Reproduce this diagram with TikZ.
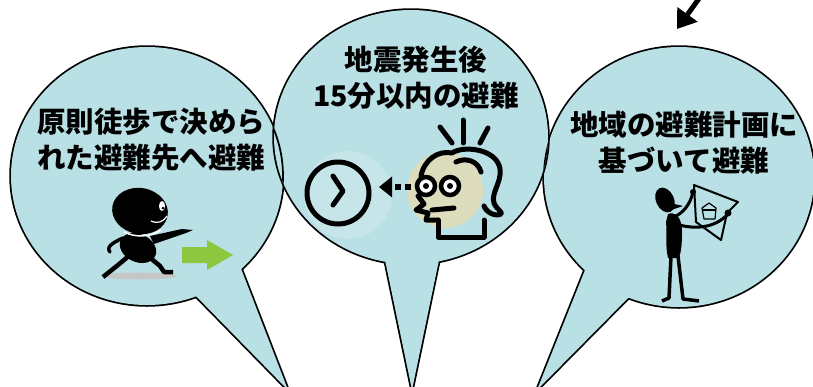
\documentclass[tikz,border=0pt]{standalone}
\usepackage{fontspec}
\usepackage{tikz}
\usetikzlibrary{arrows.meta}
\newfontfamily\jpfont{Noto Sans CJK JP}

\definecolor{bubblefill}{RGB}{185,224,228}
\definecolor{glowfill}{RGB}{197,229,232}
\definecolor{facefill}{RGB}{221,221,190}
\definecolor{gogreen}{RGB}{141,198,63}

% speech bubble: centre, x radius, y radius, tail base 1, tail base 2, tail tip
\newcommand{\drawbubble}[6]{%
  \draw[line width=3.5pt] #4 -- #6 -- #5;
  \draw[line width=3.5pt] #1 ellipse [x radius=#2, y radius=#3];
  \fill[bubblefill] #4 -- #6 -- #5 -- cycle;
  \fill[bubblefill] #1 ellipse [x radius=#2, y radius=#3];
}

\begin{document}
\begin{tikzpicture}[x=1pt,y=-1pt,
  msg/.style={font=\jpfont\bfseries\fontsize{28.5}{36}\selectfont, align=center, inner sep=0pt},
  ink/.style={line width=5pt, line cap=round, line join=round}]

\useasboundingbox (0,0) rectangle (813,386);
\clip (0,0) rectangle (813,386);

% Draw bubbles
\drawbubble{(147,176)}{136}{129}{(193,293)}{(240,266)}{(288,390)}
\drawbubble{(679,177)}{135}{130}{(587,265)}{(632,294)}{(537,390)}
\drawbubble{(411,137)}{137}{127}{(385,260)}{(439,260)}{(412,390)}

% outlines crossing under the middle bubble
\begin{scope}
  \clip (411,137) ellipse [x radius=137, y radius=127];
  \draw[line width=1.75pt] (147,176) ellipse [x radius=136, y radius=129];
  \draw[line width=1.75pt] (679,177) ellipse [x radius=135, y radius=130];
\end{scope}

% Add texts
\node[msg] (walk) at (151,140) {原則徒歩で決めら\\れた避難先へ避難};
\node[msg] (quake) at (416,78) {地震発生後\\15分以内の避難};
\node[msg] (plan) at (684,143) {地域の避難計画に\\基づいて避難};

% Arrow at the top
\coordinate (arrtail) at (708,-14);
\coordinate (arrtip) at (677,29);
\draw[line width=5pt, -{Triangle[width=24pt,length=18pt]}] (arrtail) -- (arrtip);

% Runner
\fill[gray!45] (140,276) ellipse [x radius=37, y radius=3.5];
\fill[rotate around={-10:(140,211)}] (140,211) ellipse [x radius=28, y radius=23];
\fill[rotate around={-25:(138,248)}] (138,248) ellipse [x radius=19, y radius=14];
\draw[white, line width=1.5pt] (124,232) .. controls (136,238) and (150,237) .. (161,230);
\fill[white] (162,206) ellipse [x radius=3, y radius=5];
\fill (163,208) circle (1.5);
\draw[white, line width=1.2pt] (151,221) .. controls (158,224) and (163,222) .. (167,216);
\fill (150,236) -- (182,229) -- (193,230) -- (186,233) -- (154,244) -- cycle;
\draw[line width=3.5pt, line cap=round] (123,238) .. controls (112,243) and (106,247) .. (110,252);
\draw[line width=4.5pt, line join=round] (130,255) -- (118,265) -- (103,277);
\draw[line width=4.5pt, line join=round] (148,256) -- (160,266) -- (164,272) -- (173,272);

% Green arrow
\fill[gogreen] (182,247) -- (207,247) -- (207,240) -- (233,255) -- (207,270) -- (207,263) -- (182,263) -- cycle;

% Clock
\fill[glowfill] (348,195) circle (44);
\draw[line width=5pt] (338,193) circle (31);
\draw[ink] (333,176) -- (343,191) -- (333,205);

% Head with glasses
\fill[facefill] (445,190) circle (38);
\foreach \xa/\ya/\xb/\yb in {440/127/452/143, 463/120/463/143, 488/128/480/143}
  \draw[ink] (\xa,\ya) -- (\xb,\yb);
\draw[ink] (421,176) .. controls (424,160) and (438,150) .. (452,153)
  .. controls (462,146) and (490,148) .. (498,163)
  .. controls (506,178) and (490,192) .. (494,203)
  .. controls (497,210) and (503,212) .. (501,214)
  .. controls (495,217) and (486,212) .. (484,206);
\draw[ink] (456,162) .. controls (466,157) and (478,161) .. (481,172);
\draw[ink] (418,196) -- (424,204) -- (416,210) -- (428,213) -- (426,220) -- (438,220);
\draw[ink] (438,220) -- (438,237) -- (484,237) -- (484,220);
\draw[ink] (432,210) -- (454,208);
\filldraw[fill=white, line width=4.5pt] (426,186) circle (9);
\filldraw[fill=white, line width=4.5pt] (450,186) circle (9);
\fill (426,186) circle (3);
\fill (450,186) circle (3);

% Dashed arrow from head to clock
\coordinate (eyes) at (411,187);
\coordinate (clock) at (379,187);
\draw[line width=6pt, dash pattern=on 6pt off 4pt, -{Triangle[width=20pt,length=13pt]}] (eyes) -- (clock);

% Man holding a map
\draw[line width=2pt, line join=round] (694,185) -- (738,202) -- (727,213) -- (721,240) -- (696,222) -- cycle;
\draw[line width=1.2pt, line join=round] (709,203) -- (716,208) -- (715,219) -- (704,219) -- (702,208) -- cycle;
\draw[line width=1.2pt] (702,210) -- (716,210);
\fill[rotate around={25:(665,200)}] (665,200) ellipse [x radius=9, y radius=13];
\fill (670,203) -- (683,206) -- (671,210) -- cycle;
\fill (668,214) .. controls (676,211) and (682,218) .. (682,232)
  .. controls (682,245) and (681,252) .. (679,258) -- (668,258)
  .. controls (665,245) and (667,230) .. (666,222) -- cycle;
\draw[line width=3.5pt, line join=round] (671,256) -- (669,298) -- (662,301);
\draw[line width=3.5pt, line join=round] (678,256) -- (683,299) -- (699,301);
\draw[line width=3pt, line cap=round] (674,217) .. controls (683,213) and (690,205) .. (693,192);
\draw[line width=3pt, line cap=round] (676,224) .. controls (695,230) and (715,228) .. (728,214);
\fill (693,192) circle (3);
\fill (728,213) circle (3.5);

\end{tikzpicture}
\end{document}
